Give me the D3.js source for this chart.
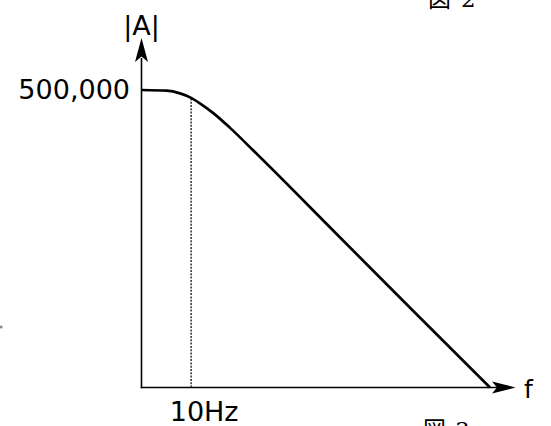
<!DOCTYPE html>
<html>
<head>
<meta charset="utf-8">
<script src="https://cdn.jsdelivr.net/npm/d3@7"></script>
<style>
  html, body { margin: 0; padding: 0; background: #fff; }
  svg { display: block; }
</style>
</head>
<body>
<svg id="chart" width="551" height="426"></svg>
<script>
// Frequency response |A| vs f (log-log)
const freqHz = [2.2, 4.7, 7.1, 10, 13.1, 19.8, 33.2, 68, 1000, 10000, 100000];
const gainA  = [500000, 489200, 450000, 391400, 331100, 244300, 154800, 76800, 5120, 502, 50];
const cornerHz = 10;
const yTickValues = [500000];
const xTickLabels = ["10Hz"];
const yTickLabels = ["500,000"];
const axisTitles = { x: "f", y: "|A|" };

const svg = d3.select("#chart");
const font = "'DejaVu Sans', sans-serif";

const x = d3.scaleLog().domain([2.2, 100000]).range([142, 490]);
const y = d3.scaleLog().domain([50, 500000]).range([387.5, 90]);

const x0 = 141.5, y0 = 387.5;

// stray figure captions partially visible at the edges
svg.append("text").attr("x", 428).attr("y", 7)
  .attr("font-family", "'Noto Sans CJK JP', serif").attr("font-size", 23).attr("fill", "#000")
  .text("図");
svg.append("text").attr("x", 461).attr("y", 7)
  .attr("font-family", "'DejaVu Serif', 'Liberation Serif', serif").attr("font-size", 23).attr("fill", "#000")
  .text("2");
svg.append("text").attr("x", 423).attr("y", 438)
  .attr("font-family", "'Noto Sans CJK JP', serif").attr("font-size", 23).attr("fill", "#000")
  .text("図");
svg.append("text").attr("x", 455).attr("y", 438)
  .attr("font-family", "'DejaVu Serif', 'Liberation Serif', serif").attr("font-size", 23).attr("fill", "#000")
  .text("3");
svg.append("circle").attr("cx", 1).attr("cy", 327).attr("r", 1.6).attr("fill", "#888");

// dotted corner-frequency line
svg.append("line")
  .attr("x1", x(cornerHz)).attr("x2", x(cornerHz))
  .attr("y1", y0).attr("y2", y(gainA[freqHz.indexOf(cornerHz)]))
  .attr("stroke", "#222").attr("stroke-width", 1.4).attr("stroke-dasharray", "2,1.3");

// axes
svg.append("line").attr("x1", x0).attr("x2", x0).attr("y1", y0 + 0.8).attr("y2", 58)
  .attr("stroke", "#000").attr("stroke-width", 1.6);
svg.append("line").attr("x1", x0 - 0.8).attr("x2", 498).attr("y1", y0).attr("y2", y0)
  .attr("stroke", "#000").attr("stroke-width", 1.6);

// arrowheads
svg.append("path")
  .attr("d", `M${x0},38 L${x0 + 6.5},62 L${x0},56.5 L${x0 - 6.5},62 Z`)
  .attr("fill", "#000");
svg.append("path")
  .attr("d", `M515.5,${y0} L492,${y0 - 6} L497,${y0} L492,${y0 + 6} Z`)
  .attr("fill", "#000");

// response curve
const line = d3.line()
  .x((d, i) => x(freqHz[i]))
  .y(d => y(d))
  .curve(d3.curveMonotoneX);
svg.append("path")
  .attr("d", line(gainA))
  .attr("fill", "none").attr("stroke", "#000").attr("stroke-width", 2.7)
  .attr("stroke-linejoin", "round");

// labels
svg.append("text").attr("x", x0).attr("y", 35).attr("text-anchor", "middle")
  .attr("font-family", font).attr("font-size", 27).text(axisTitles.y);
svg.append("text").attr("x", 130).attr("y", y(yTickValues[0]) + 8.5).attr("text-anchor", "end")
  .attr("font-family", font).attr("font-size", 27).text(yTickLabels[0]);
svg.append("text").attr("x", x(cornerHz) + 13).attr("y", 421).attr("text-anchor", "middle")
  .attr("font-family", font).attr("font-size", 27).text(xTickLabels[0]);
svg.append("text").attr("x", 524).attr("y", 398)
  .attr("font-family", font).attr("font-size", 25).text(axisTitles.x);
</script>
</body>
</html>
